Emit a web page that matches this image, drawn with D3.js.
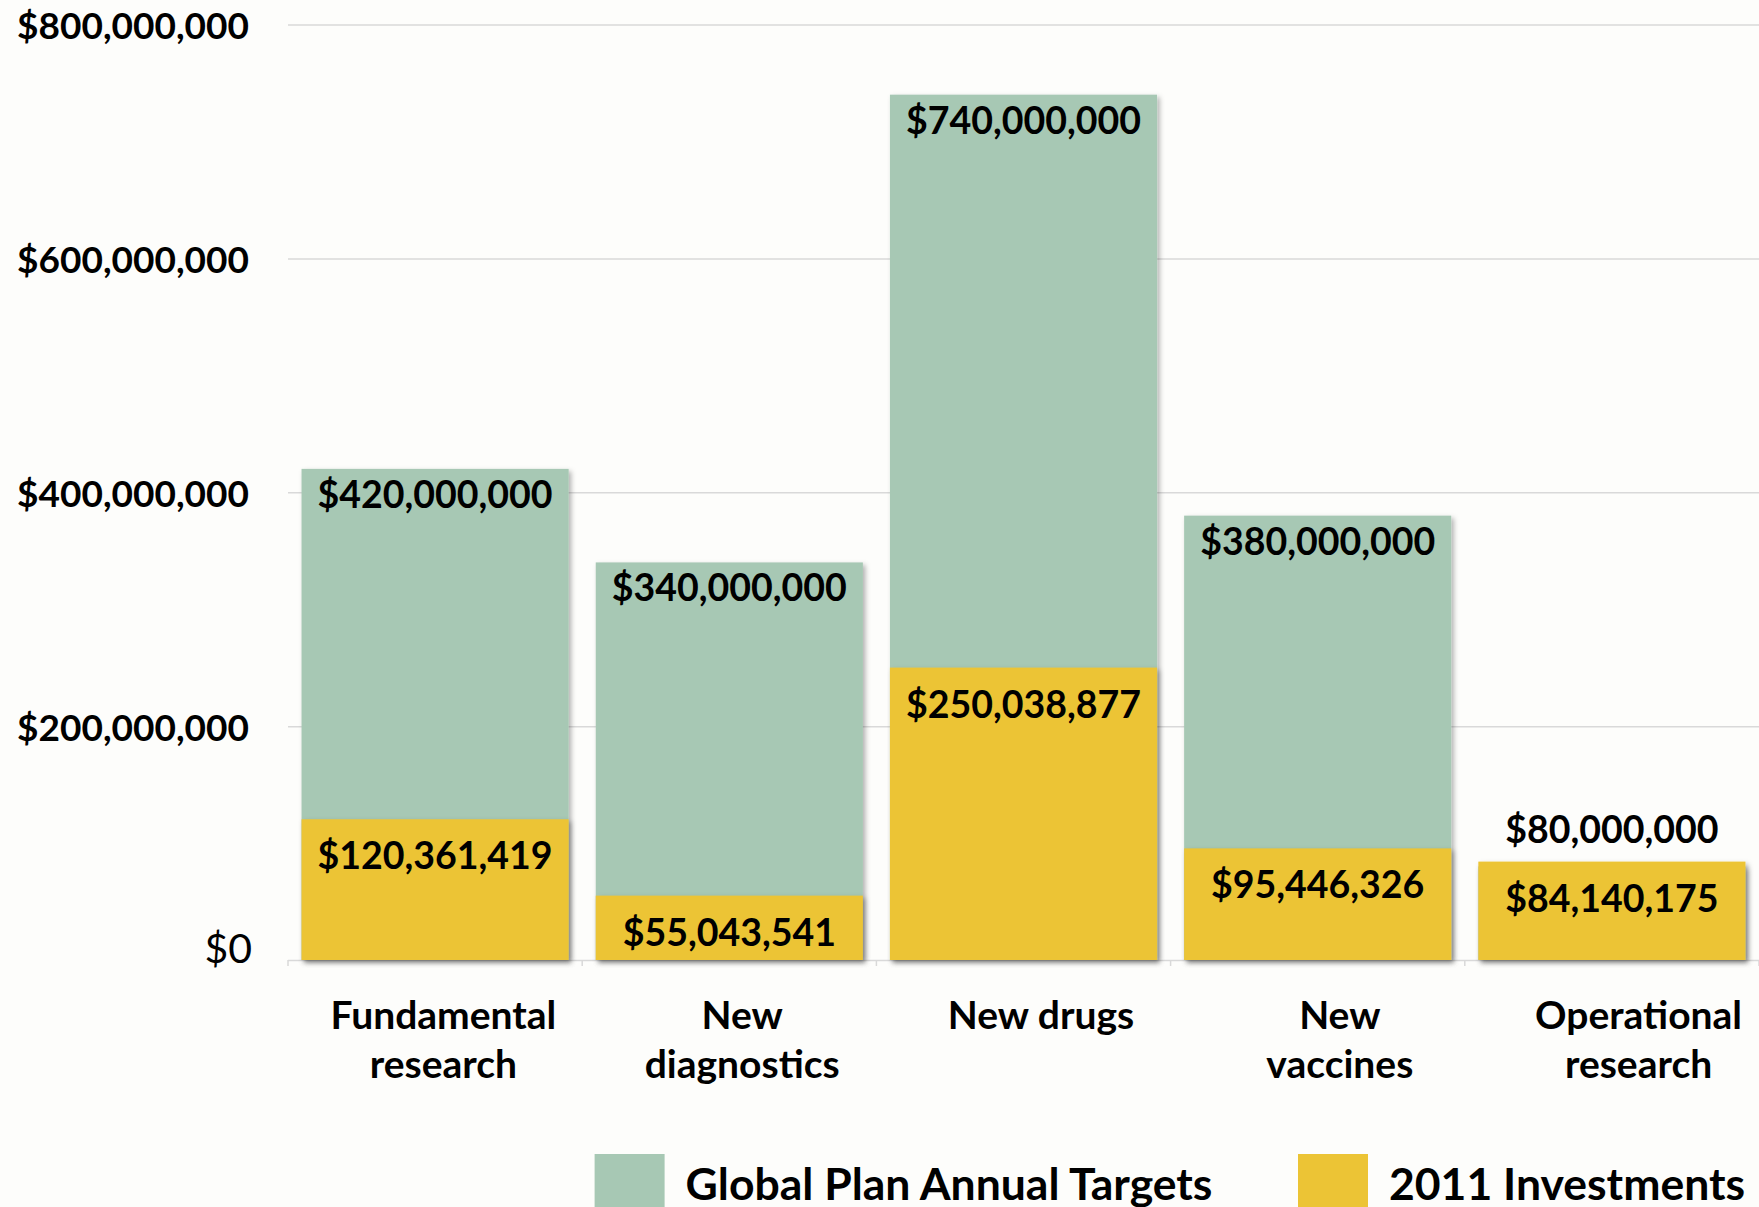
<!DOCTYPE html>
<html>
<head>
<meta charset="utf-8">
<script src="https://cdn.jsdelivr.net/npm/d3@7"></script>
<style>
  html, body { margin: 0; padding: 0; background: #fdfdfb; }
  svg { display: block; }
  text { font-family: Lato, "Noto Sans", sans-serif; fill: #000; }
</style>
</head>
<body>
<svg id="chart" width="1759" height="1207"></svg>
<script>
// TB research funding: Global Plan annual targets vs. 2011 investments (USD)
const categories = ["Fundamental\nresearch", "New\ndiagnostics", "New drugs", "New\nvaccines", "Operational\nresearch"];
const targets = [420000000, 340000000, 740000000, 380000000, 80000000];
const investments = [120361419, 55043541, 250038877, 95446326, 84140175];
const yTicks = [0, 200000000, 400000000, 600000000, 800000000];
const seriesNames = ["Global Plan Annual Targets", "2011 Investments"];
const seriesColors = ["#a7c8b4", "#ecc435"];

const svg = d3.select("#chart");
const plot = { left: 288, right: 1759, top: 24.5, bottom: 960 };

const rows = categories.map((c, i) => ({ cat: c, target: targets[i], invest: investments[i] }));

const x = d3.scaleBand()
  .domain(categories)
  .range([plot.left, plot.right])
  .paddingInner(0.092)
  .paddingOuter(0.046);

// category captions sit on their own, slightly wider band
const xLabel = d3.scaleBand()
  .domain(categories)
  .range([294, 1788]);

const y = d3.scaleLinear()
  .domain([0, 800000000])
  .range([plot.bottom, plot.top]);

const fmt = d3.format("$,");

// soft drop shadow for the columns
const defs = svg.append("defs");
const f = defs.append("filter").attr("id", "shadow")
  .attr("x", "-5%").attr("y", "-5%").attr("width", "115%").attr("height", "115%");
f.append("feDropShadow")
  .attr("dx", 2.5).attr("dy", 2.5).attr("stdDeviation", 2.5)
  .attr("flood-color", "#000").attr("flood-opacity", 0.3);

// y axis with gridlines
const yAxis = d3.axisLeft(y)
  .tickValues(yTicks)
  .tickSize(-(plot.right - plot.left))
  .tickPadding(39)
  .tickFormat(fmt);

const gy = svg.append("g")
  .attr("transform", `translate(${plot.left},0)`)
  .call(yAxis);
gy.select(".domain").remove();
gy.selectAll(".tick line").attr("stroke", "#d9d9d9").attr("stroke-width", 1.5);
gy.selectAll(".tick text")
  .attr("font-family", "Lato, sans-serif")
  .attr("font-size", 37)
  .attr("font-weight", 700)
  .attr("fill", "#000")
  .attr("dy", null)
  .attr("y", 14);
gy.selectAll(".tick").filter(d => d === 0).select("text")
  .attr("font-size", 41)
  .attr("font-weight", 400)
  .attr("x", -36)
  .attr("y", 2.5);

// x axis baseline tick marks at the category boundaries
const step = x.step();
const boundaries = d3.range(categories.length + 1).map(i => plot.left + i * step);
svg.append("g").selectAll("line")
  .data(boundaries)
  .join("line")
  .attr("x1", d => d).attr("x2", d => d)
  .attr("y1", y(0)).attr("y2", y(0) + 6)
  .attr("stroke", "#d9d9d9").attr("stroke-width", 1.5);

// target columns (behind)
svg.append("g").attr("filter", "url(#shadow)")
  .selectAll("rect")
  .data(rows)
  .join("rect")
  .attr("x", d => x(d.cat))
  .attr("width", x.bandwidth())
  .attr("y", d => y(d.target))
  .attr("height", d => y(0) - y(d.target))
  .attr("fill", seriesColors[0]);

// investment columns (in front)
svg.append("g").attr("filter", "url(#shadow)")
  .selectAll("rect")
  .data(rows)
  .join("rect")
  .attr("x", d => x(d.cat))
  .attr("width", x.bandwidth())
  .attr("y", d => y(d.invest))
  .attr("height", d => y(0) - y(d.invest))
  .attr("fill", seriesColors[1]);

// value labels
const labels = svg.append("g")
  .attr("font-size", 37.5)
  .attr("font-weight", 700)
  .attr("text-anchor", "middle");

labels.selectAll("text.target")
  .data(rows)
  .join("text")
  .attr("class", "target")
  .attr("x", d => x(d.cat) + x.bandwidth() / 2)
  .attr("y", d => d.target >= d.invest ? y(d.target) + 26 + 13 : y(d.invest) - 32 + 13)
  .text(d => fmt(d.target));

labels.selectAll("text.invest")
  .data(rows)
  .join("text")
  .attr("class", "invest")
  .attr("x", d => x(d.cat) + x.bandwidth() / 2)
  .attr("y", d => y(d.invest) + 37 + 13)
  .text(d => fmt(d.invest));

// category captions
const cats = svg.append("g")
  .attr("font-size", 39)
  .attr("font-weight", 700)
  .attr("text-anchor", "middle");
cats.selectAll("text")
  .data(categories)
  .join("text")
  .attr("x", d => xLabel(d) + xLabel.bandwidth() / 2)
  .attr("y", 1029)
  .each(function (d) {
    const t = d3.select(this);
    d.split("\n").forEach((line, i) => {
      t.append("tspan")
        .attr("x", xLabel(d) + xLabel.bandwidth() / 2)
        .attr("dy", i === 0 ? 0 : 49)
        .text(line);
    });
  });

// legend
const legendX = [594.6, 1298];
const legend = svg.append("g");
const items = legend.selectAll("g")
  .data(seriesNames)
  .join("g")
  .attr("transform", (d, i) => `translate(${legendX[i]},1154)`);
items.append("rect")
  .attr("width", 70).attr("height", 70)
  .attr("fill", (d, i) => seriesColors[i]);
items.append("text")
  .attr("x", 91)
  .attr("y", 46)
  .attr("font-size", 44.5)
  .attr("font-weight", 700)
  .text(d => d);
</script>
</body>
</html>
